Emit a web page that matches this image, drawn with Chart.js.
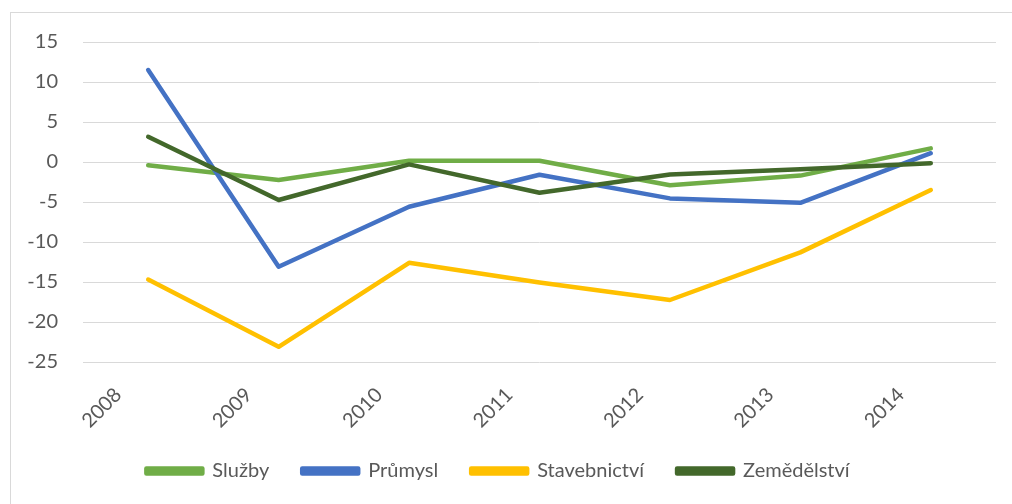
<!DOCTYPE html>
<html lang="cs">
<head>
  <meta charset="UTF-8" />
  <title>Vývoj podle odvětví 2008–2014</title>
  <style>
    html, body { margin: 0; padding: 0; background: #fff; }
    .frame {
      position: absolute; left: 10px; top: 12px;
      width: 1100px; height: 600px;
      border: 1px solid #d9d9d9;
    }
    .wrap { position: absolute; left: 0; top: 0; width: 1012px; height: 504px; }
  </style>
</head>
<body>
  <div class="frame"></div>
  <div class="wrap">
    <canvas id="chart" width="1012" height="504"></canvas>
  </div>

  <script src="https://cdn.jsdelivr.net/npm/chart.js"></script>
  <script>
    const years = ['2008', '2009', '2010', '2011', '2012', '2013', '2014'];
    const yTicks = [-25, -20, -15, -10, -5, 0, 5, 10, 15];

    const sluzby       = [-0.4, -2.25, 0.15, 0.15, -2.9, -1.7, 1.7];
    const prumysl      = [11.5, -13.1, -5.6, -1.6, -4.55, -5.1, 1.1];
    const stavebnictvi = [-14.7, -23.1, -12.6, -15.05, -17.25, -11.3, -3.5];
    const zemedelstvi  = [3.15, -4.75, -0.3, -3.85, -1.55, -0.9, -0.15];

    const TEXT = '#595959';
    const FONT = 'Lato';

    function line(label, data, color, order) {
      return {
        label, data, order,
        borderColor: color,
        backgroundColor: color,
        borderWidth: 4.5,
        borderCapStyle: 'round',
        borderJoinStyle: 'round',
        pointRadius: 0,
        tension: 0,
        fill: false
      };
    }

    new Chart(document.getElementById('chart'), {
      type: 'line',
      data: {
        labels: years,
        datasets: [
          line('Služby', sluzby, '#70ad47', 4),
          line('Průmysl', prumysl, '#4472c4', 3),
          line('Stavebnictví', stavebnictvi, '#ffc000', 2),
          line('Zemědělství', zemedelstvi, '#43682b', 1)
        ]
      },
      options: {
        responsive: false,
        animation: false,
        layout: { padding: { left: 0, right: 16, top: 42, bottom: 13 } },
        plugins: {
          tooltip: { enabled: false },
          legend: {
            position: 'bottom',
            labels: {
              color: TEXT,
              font: { family: FONT, size: 20 },
              boxWidth: 56,
              boxHeight: 5,
              padding: 33,
              sort: (a, b) => a.datasetIndex - b.datasetIndex
            }
          }
        },
        scales: {
          x: {
            offset: true,
            grid: { display: false },
            border: { display: false },
            ticks: {
              color: TEXT,
              font: { family: FONT, size: 20 },
              minRotation: 45,
              maxRotation: 45,
              labelOffset: -30,
              padding: 13
            },
            afterFit(scale) { scale.height = 66; }
          },
          y: {
            min: -25,
            max: 15,
            afterBuildTicks(scale) { scale.ticks = yTicks.map(v => ({ value: v })); },
            grid: { color: '#d9d9d9', lineWidth: 1, drawTicks: false },
            border: { display: false },
            ticks: {
              color: TEXT,
              font: { family: FONT, size: 20 },
              padding: 25
            },
            afterFit(scale) { scale.width = 83; }
          }
        }
      }
    });
  </script>
</body>
</html>
